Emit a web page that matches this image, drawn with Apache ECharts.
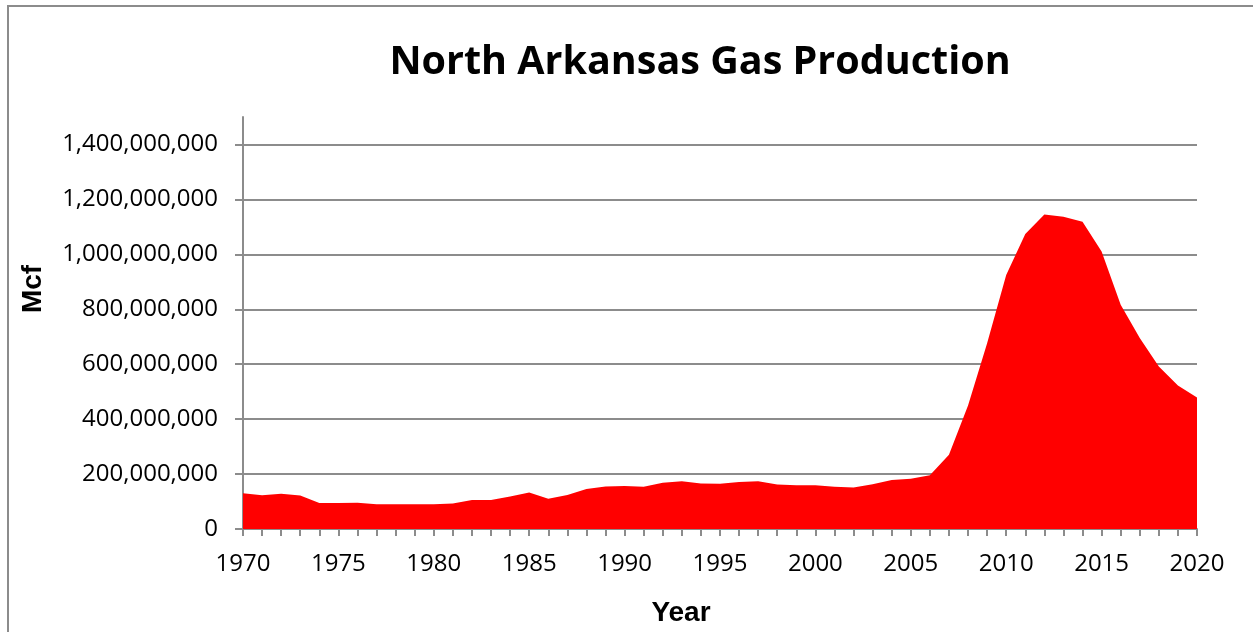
<!DOCTYPE html>
<html>
<head>
<meta charset="utf-8">
<title>North Arkansas Gas Production</title>
<script src="https://cdn.jsdelivr.net/npm/echarts@6/dist/echarts.min.js"></script>
<style>
    html, body { margin: 0; padding: 0; background: #fff; }
    #frame {
        position: absolute; left: 7px; top: 5px; width: 1260px; height: 625px;
        border-left: 2px solid #8c8c8c; border-top: 2px solid #8c8c8c; border-bottom: 1px solid #e0e0e0;
    }
    #chart { position: absolute; left: 0; top: 0; width: 1253px; height: 632px; }
</style>
</head>
<body>
<div id="frame"></div>
<div id="chart"></div>
<script>
// years on the x axis
var years = [];
for (var y = 1970; y <= 2020; y++) years.push(String(y));

// annual gas production, Mcf
var production = [
    130e6, 123e6, 128e6, 122e6, 95e6, 95e6, 96e6, 90e6, 90e6, 90e6,      // 1970-1979
    90e6, 93e6, 106e6, 106e6, 118e6, 133e6, 110e6, 124e6, 146e6, 155e6,  // 1980-1989
    157e6, 154e6, 168e6, 174e6, 166e6, 165e6, 171e6, 174e6, 162e6, 159e6, // 1990-1999
    159e6, 154e6, 151e6, 163e6, 178e6, 183e6, 196e6, 270e6, 450e6, 676e6, // 2000-2009
    925e6, 1074e6, 1145e6, 1137e6, 1119e6, 1010e6, 816e6, 695e6, 592e6, 522e6, // 2010-2019
    479e6                                                                 // 2020
];

var gridColor = '#8c8c8c';
var labelFont = '"Open Sans", "Noto Sans", sans-serif';

var chart = echarts.init(document.getElementById('chart'));
chart.setOption({
    animation: false,
    backgroundColor: 'transparent',
    title: {
        text: 'North Arkansas Gas Production',
        left: 695,
        top: 38,
        textAlign: 'center',
        textStyle: {
            fontFamily: labelFont,
            fontWeight: 'bold',
            fontSize: 39.5,
            color: '#000'
        }
    },
    grid: { left: 243, right: 56, top: 117, bottom: 102, containLabel: false },
    xAxis: {
        type: 'category',
        data: years,
        boundaryGap: false,
        name: 'Year',
        nameLocation: 'middle',
        nameGap: 70,
        nameTextStyle: {
            fontFamily: 'Liberation Sans, Arial, sans-serif',
            fontWeight: 'bold',
            fontSize: 28,
            color: '#000',
            padding: [0, 78, 0, 0]
        },
        axisLine: { lineStyle: { color: gridColor, width: 2 } },
        axisTick: { interval: 0, length: 7, lineStyle: { color: gridColor, width: 2 } },
        axisLabel: {
            interval: 4,
            margin: 23,
            fontFamily: labelFont,
            fontSize: 24,
            color: '#000'
        },
        splitLine: { show: false }
    },
    yAxis: {
        type: 'value',
        min: 0,
        max: 1500000000,
        interval: 200000000,
        name: 'Mcf',
        nameLocation: 'middle',
        nameGap: 196,
        nameRotate: 90,
        nameTextStyle: {
            fontFamily: 'Liberation Sans, Arial, sans-serif',
            fontWeight: 'bold',
            fontSize: 28,
            color: '#000',
            padding: [0, 0, 0, 68]
        },
        axisLine: { show: true, lineStyle: { color: gridColor, width: 2 } },
        axisTick: { show: true, inside: false, length: 8, lineStyle: { color: gridColor, width: 2 } },
        axisLabel: {
            showMaxLabel: false,
            margin: 25,
            fontFamily: labelFont,
            fontSize: 24,
            color: '#000',
            formatter: function (v) {
                return v.toLocaleString('en-US');
            }
        },
        splitLine: {
            show: true,
            lineStyle: {
                width: 2,
                // first and last (0 and the top of the axis) stay hidden
                color: ['rgba(0,0,0,0)', gridColor, gridColor, gridColor, gridColor, gridColor, gridColor, gridColor]
            }
        }
    },
    series: [{
        name: 'Production',
        type: 'line',
        data: production,
        symbol: 'none',
        lineStyle: { width: 0 },
        areaStyle: { color: '#ff0000', opacity: 1 },
        z: 3
    }]
});
</script>
</body>
</html>
